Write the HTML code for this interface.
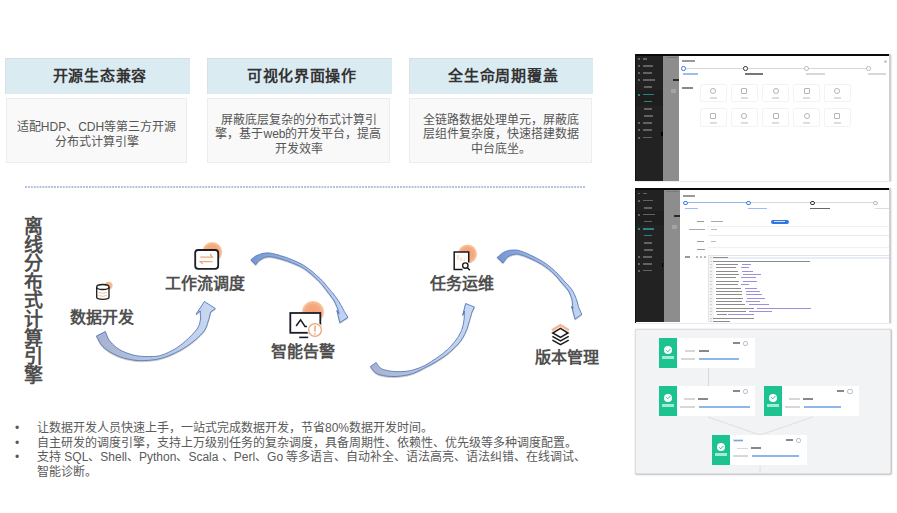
<!DOCTYPE html>
<html lang="zh-CN"><head><meta charset="utf-8">
<style>
*{margin:0;padding:0;box-sizing:border-box}
html,body{width:897px;height:513px;overflow:hidden;background:#fff;font-family:"Liberation Sans",sans-serif;position:relative}
.a{position:absolute}
.hd{position:absolute;top:58px;height:36px;background:#dbebf2;border-top:1px solid #d3dde2;border-left:1px solid #d8e0e4;color:#333;font-weight:bold;font-size:15px;letter-spacing:0.7px;text-indent:0.7px;padding-left:3px;text-align:center;line-height:34px}
.bd{position:absolute;top:98px;height:65px;background:#f9f9f9;border:1px solid #ededed;color:#555;font-size:12px;text-align:center;line-height:14.5px;padding-top:21px}
.wf{position:absolute;font-size:16px;color:#4f4f4f;font-weight:bold;white-space:nowrap;line-height:16px}
.bul{position:absolute;left:15px;font-size:12px;color:#5a5a5a;line-height:14.5px}
.bul .d{position:absolute;left:0}
.ss{position:absolute;overflow:hidden;box-shadow:0.5px 0.5px 1.5px rgba(0,0,0,.25)}
.ss i{position:absolute;display:block}
.ss{filter:blur(0.6px)}
.bul .t{position:absolute;left:22px;white-space:nowrap}
</style></head><body>

<!-- header boxes -->
<div class="hd" style="left:5px;width:185px">开源生态兼容</div>
<div class="hd" style="left:207px;width:185px">可视化界面操作</div>
<div class="hd" style="left:409px;width:184px">全生命周期覆盖</div>

<div class="bd" style="left:6px;width:181px">适配HDP、CDH等第三方开源<br>分布式计算引擎</div>
<div class="bd" style="left:207px;width:183px;padding-top:13.5px">屏蔽底层复杂的分布式计算引<br>擎，基于web的开发平台，提高<br>开发效率</div>
<div class="bd" style="left:409px;width:183px;padding-top:13.5px">全链路数据处理单元，屏蔽底<br>层组件复杂度，快速搭建数据<br>中台底坐。</div>

<!-- dotted line -->
<div class="a" style="left:25px;top:186px;width:561px;height:2px;background-image:linear-gradient(to right,#a3b8d6 0 2px,transparent 2px 3px);background-size:2.92px 2px;opacity:.85"></div>

<!-- vertical title -->
<div class="a" style="left:23.5px;top:218px;width:20px;font-size:19px;line-height:18.6px;font-weight:bold;color:#4d4d4d">离线分布式计算引擎</div>


<!-- workflow svg -->
<svg class="a" style="left:0;top:0" width="897" height="513" viewBox="0 0 897 513">
<defs>
<linearGradient id="g1" x1="0" y1="0" x2="1" y2="0"><stop offset="0" stop-color="#a7b2cf"/><stop offset="1" stop-color="#c8d9f3"/></linearGradient>
<linearGradient id="g2" x1="0" y1="0" x2="1" y2="0"><stop offset="0" stop-color="#7596d2"/><stop offset="0.5" stop-color="#a2bbe6"/><stop offset="1" stop-color="#c3d5f3"/></linearGradient>
<linearGradient id="g3" x1="0" y1="0" x2="1" y2="0"><stop offset="0" stop-color="#a7b2cf"/><stop offset="1" stop-color="#c8d9f3"/></linearGradient>
<radialGradient id="og"><stop offset="0" stop-color="#f4a273"/><stop offset="0.7" stop-color="#f5ab7f"/><stop offset="1" stop-color="#f8caa8"/></radialGradient>
</defs>
<g stroke="#4d72b9" stroke-width="0.85" stroke-linejoin="round" style="filter:drop-shadow(0.6px 1px 0.7px rgba(0,0,0,.22))">
<!-- arrow1 -->
<path fill="url(#g1)" d="M96.4,336.1 L97.1,337.2 L97.7,338.3 L98.2,339.5 L98.9,340.8 L99.7,342.3 L100.6,343.7 L101.7,345.3 L103.0,346.7 L104.4,348.0 L105.9,349.2 L107.5,350.4 L109.2,351.5 L111.0,352.6 L112.8,353.6 L114.6,354.5 L116.5,355.4 L118.4,356.2 L120.4,357.0 L122.5,357.6 L124.5,358.2 L126.6,358.8 L128.6,359.2 L130.6,359.6 L132.5,359.9 L134.3,360.2 L136.0,360.4 L137.8,360.6 L139.4,360.6 L141.1,360.7 L142.7,360.6 L144.3,360.6 L146.0,360.5 L147.7,360.4 L149.5,360.3 L151.2,360.1 L153.0,359.9 L154.8,359.7 L156.6,359.4 L158.5,359.0 L160.3,358.5 L162.3,358.0 L164.2,357.4 L166.2,356.7 L168.1,356.0 L170.1,355.2 L172.0,354.3 L174.0,353.5 L175.8,352.5 L177.7,351.6 L179.5,350.7 L181.4,349.7 L183.2,348.6 L184.9,347.5 L186.7,346.4 L188.4,345.2 L190.2,343.9 L191.9,342.6 L193.7,341.2 L195.5,339.7 L197.2,338.2 L198.9,336.6 L200.5,335.1 L202.0,333.6 L203.3,332.0 L204.4,330.5 L205.4,328.9 L206.1,327.4 L206.7,326.0 L207.2,324.6 L207.6,323.3 L207.9,322.1 L208.3,320.9 L208.7,319.7 L209.1,318.4 L209.4,317.2 L209.7,316.0 L210.0,314.9 L210.2,313.9 L210.4,312.9 L210.7,311.9 L215.4,308.5 L204.4,301.5 L196.0,314.2 L200.2,310.9 L200.3,312.0 L200.3,313.1 L200.4,314.2 L200.5,315.2 L200.6,316.2 L200.6,317.1 L200.6,318.0 L200.5,319.1 L200.3,320.2 L200.1,321.4 L199.8,322.5 L199.6,323.6 L199.3,324.7 L198.9,325.7 L198.3,326.8 L197.7,328.0 L196.8,329.3 L195.7,330.7 L194.4,332.2 L193.0,333.8 L191.5,335.4 L189.9,337.0 L188.4,338.5 L186.8,339.9 L185.4,341.2 L183.8,342.5 L182.3,343.8 L180.7,345.0 L179.1,346.2 L177.5,347.3 L175.9,348.4 L174.2,349.5 L172.4,350.4 L170.6,351.3 L168.8,352.2 L166.9,353.1 L165.1,353.9 L163.2,354.6 L161.4,355.2 L159.7,355.7 L157.9,356.1 L156.2,356.3 L154.4,356.5 L152.7,356.5 L151.0,356.6 L149.3,356.6 L147.7,356.5 L146.0,356.5 L144.3,356.5 L142.8,356.4 L141.2,356.3 L139.7,356.2 L138.2,356.0 L136.7,355.7 L135.1,355.4 L133.5,355.1 L131.8,354.6 L130.0,354.0 L128.2,353.4 L126.3,352.8 L124.5,352.0 L122.7,351.3 L121.0,350.5 L119.5,349.6 L118.0,348.6 L116.6,347.6 L115.2,346.5 L113.9,345.3 L112.6,344.1 L111.5,342.9 L110.5,341.8 L109.6,340.7 L109.0,339.8 L108.4,338.9 L107.9,337.9 L107.5,336.8 L107.0,335.6 L106.5,334.3 L105.9,332.9 L105.3,331.5 Z"/>
<!-- arrow2 -->
<path fill="url(#g2)" d="M255.6,264.8 L256.2,264.2 L256.7,263.5 L257.2,262.9 L257.6,262.3 L258.0,261.7 L258.4,261.3 L258.9,260.8 L259.4,260.4 L260.1,259.9 L260.9,259.4 L261.7,258.9 L262.6,258.4 L263.5,257.9 L264.4,257.6 L265.4,257.2 L266.3,257.0 L267.2,256.8 L268.1,256.8 L269.0,256.7 L269.9,256.7 L270.9,256.8 L272.0,256.9 L273.2,257.1 L274.6,257.4 L276.2,257.8 L277.9,258.2 L279.7,258.7 L281.7,259.2 L283.6,259.8 L285.6,260.5 L287.6,261.1 L289.5,261.9 L291.3,262.6 L293.2,263.3 L295.1,264.1 L297.0,264.9 L298.8,265.7 L300.7,266.6 L302.5,267.6 L304.3,268.7 L306.1,270.0 L308.0,271.5 L310.0,273.0 L311.9,274.7 L313.7,276.3 L315.5,277.9 L317.2,279.5 L318.7,281.0 L320.0,282.3 L321.1,283.6 L322.2,284.8 L323.2,286.0 L324.1,287.2 L325.0,288.5 L326.0,289.7 L326.9,290.9 L327.9,292.2 L328.9,293.5 L329.9,294.8 L330.8,296.0 L331.7,297.3 L332.6,298.5 L333.4,299.7 L334.2,301.0 L334.9,302.2 L335.5,303.6 L336.1,305.0 L336.7,306.4 L337.3,307.7 L337.8,309.0 L338.2,310.1 L338.5,311.0 L338.8,311.7 L338.9,312.2 L338.9,312.4 L338.9,312.6 L338.8,312.7 L338.8,313.0 L338.9,313.4 L338.9,313.9 L336.9,310.3 L339.8,322.6 L348.0,317.3 L344.7,312.1 L344.5,311.9 L344.5,311.9 L344.4,311.7 L344.2,311.3 L344.0,310.8 L343.8,310.3 L343.5,309.7 L343.1,309.0 L342.6,308.1 L342.0,307.0 L341.3,305.8 L340.6,304.5 L339.8,303.1 L339.0,301.7 L338.1,300.4 L337.2,299.0 L336.3,297.8 L335.4,296.5 L334.4,295.2 L333.4,294.0 L332.4,292.7 L331.3,291.5 L330.3,290.3 L329.3,289.1 L328.3,287.9 L327.3,286.7 L326.4,285.5 L325.4,284.2 L324.3,283.0 L323.2,281.7 L321.9,280.4 L320.5,279.0 L319.0,277.6 L317.3,276.0 L315.5,274.4 L313.6,272.7 L311.6,271.0 L309.6,269.5 L307.6,268.0 L305.7,266.7 L303.8,265.4 L301.9,264.3 L300.0,263.3 L298.1,262.4 L296.2,261.5 L294.3,260.7 L292.4,259.9 L290.5,259.1 L288.6,258.4 L286.6,257.6 L284.6,256.9 L282.6,256.3 L280.6,255.7 L278.7,255.1 L277.0,254.6 L275.4,254.2 L273.9,253.8 L272.6,253.5 L271.4,253.3 L270.2,253.1 L269.1,253.0 L268.0,252.9 L266.9,252.9 L265.7,253.0 L264.5,253.1 L263.3,253.3 L262.0,253.6 L260.9,254.0 L259.7,254.4 L258.6,254.8 L257.6,255.2 L256.6,255.6 L255.6,256.1 L254.7,256.7 L253.9,257.3 L253.2,257.9 L252.5,258.4 L251.9,258.9 L251.4,259.3 L250.8,259.8 Z"/>
<!-- arrow3 -->
<path fill="url(#g3)" d="M370.4,366.5 L370.8,367.1 L371.2,367.7 L371.6,368.3 L372.1,369.0 L372.6,369.8 L373.2,370.6 L373.9,371.4 L374.7,372.2 L375.5,372.7 L376.3,373.2 L377.1,373.7 L378.0,374.1 L378.9,374.5 L379.9,374.8 L381.1,375.1 L382.3,375.4 L383.6,375.6 L385.0,375.9 L386.5,376.1 L388.1,376.3 L389.7,376.4 L391.5,376.5 L393.2,376.5 L395.0,376.5 L396.8,376.4 L398.6,376.3 L400.5,376.1 L402.5,375.8 L404.5,375.5 L406.5,375.2 L408.5,374.7 L410.4,374.2 L412.4,373.6 L414.3,372.9 L416.2,372.1 L418.1,371.2 L420.0,370.3 L421.8,369.4 L423.6,368.4 L425.4,367.4 L427.3,366.5 L429.2,365.5 L431.2,364.5 L433.0,363.4 L434.9,362.4 L436.7,361.3 L438.4,360.3 L440.0,359.2 L441.6,358.2 L443.0,357.3 L444.3,356.3 L445.7,355.4 L446.9,354.4 L448.2,353.4 L449.4,352.4 L450.7,351.3 L452.0,350.1 L453.3,348.9 L454.5,347.7 L455.8,346.4 L457.0,345.2 L458.2,343.9 L459.3,342.6 L460.3,341.3 L461.3,340.0 L462.1,338.7 L462.9,337.4 L463.7,336.0 L464.4,334.7 L465.0,333.4 L465.6,332.1 L466.2,330.8 L466.8,329.5 L467.3,328.2 L467.7,326.8 L468.1,325.5 L468.5,324.2 L468.8,322.9 L469.2,321.7 L469.5,320.6 L469.9,319.4 L470.2,318.3 L470.5,317.3 L470.8,316.2 L471.1,315.2 L471.3,314.3 L471.6,313.3 L471.9,312.3 L474.4,307.0 L465.6,303.5 L462.7,315.2 L464.5,311.1 L464.5,312.2 L464.4,313.2 L464.4,314.2 L464.4,315.2 L464.3,316.3 L464.3,317.3 L464.2,318.3 L464.1,319.4 L463.9,320.6 L463.7,321.8 L463.5,323.1 L463.3,324.3 L463.0,325.5 L462.7,326.8 L462.4,328.0 L462.0,329.2 L461.5,330.4 L461.0,331.6 L460.4,332.8 L459.8,334.0 L459.2,335.1 L458.5,336.3 L457.7,337.5 L456.9,338.7 L456.0,340.0 L455.0,341.2 L454.0,342.5 L452.9,343.8 L451.8,345.1 L450.6,346.3 L449.5,347.6 L448.3,348.7 L447.2,349.8 L446.0,350.8 L444.9,351.8 L443.7,352.8 L442.5,353.8 L441.2,354.7 L439.8,355.7 L438.4,356.8 L436.8,357.9 L435.2,359.0 L433.5,360.1 L431.7,361.3 L430.0,362.4 L428.1,363.6 L426.3,364.6 L424.6,365.6 L422.7,366.4 L420.8,367.2 L418.9,368.0 L417.0,368.7 L415.1,369.3 L413.3,369.9 L411.4,370.4 L409.6,370.8 L407.7,371.1 L405.9,371.3 L404.0,371.5 L402.1,371.6 L400.3,371.6 L398.5,371.6 L396.7,371.6 L395.0,371.5 L393.4,371.4 L391.8,371.3 L390.3,371.1 L388.8,370.8 L387.4,370.5 L386.0,370.2 L384.8,369.9 L383.7,369.6 L382.8,369.3 L382.1,369.0 L381.5,368.7 L381.0,368.3 L380.6,368.0 L380.1,367.7 L379.7,367.3 L379.3,366.8 L378.9,366.5 L378.6,366.2 L378.3,365.7 L377.9,365.2 L377.5,364.6 L377.1,363.9 L376.7,363.2 L376.2,362.5 Z"/>
<!-- arrow4 -->
<path fill="url(#g2)" d="M502.8,263.0 L503.5,262.2 L504.2,261.3 L504.9,260.4 L505.5,259.6 L506.0,258.8 L506.6,258.1 L507.1,257.5 L507.6,257.1 L508.1,256.6 L508.8,256.2 L509.5,255.9 L510.2,255.5 L510.9,255.2 L511.7,255.0 L512.5,254.7 L513.3,254.5 L514.1,254.4 L514.8,254.2 L515.5,254.1 L516.1,254.1 L516.8,254.1 L517.6,254.1 L518.5,254.2 L519.5,254.4 L520.7,254.8 L522.1,255.2 L523.5,255.6 L525.0,256.2 L526.6,256.8 L528.2,257.5 L529.8,258.2 L531.4,258.9 L532.9,259.6 L534.6,260.4 L536.2,261.2 L537.9,262.1 L539.5,263.0 L541.2,263.9 L542.7,264.8 L544.2,265.8 L545.7,266.9 L547.1,268.0 L548.6,269.1 L550.0,270.3 L551.4,271.5 L552.7,272.7 L553.9,273.9 L555.1,275.0 L556.1,276.0 L557.0,277.0 L557.9,278.0 L558.7,279.0 L559.4,280.0 L560.2,281.0 L561.0,282.0 L561.9,283.0 L562.8,284.0 L563.7,285.0 L564.6,286.0 L565.5,287.0 L566.4,288.0 L567.2,289.0 L567.9,290.0 L568.6,290.9 L569.1,292.0 L569.7,293.0 L570.1,294.1 L570.5,295.2 L570.9,296.3 L571.3,297.4 L571.6,298.5 L571.9,299.6 L572.2,300.7 L572.3,301.8 L572.4,303.0 L572.5,304.1 L572.6,305.3 L572.7,306.5 L572.8,307.7 L573.0,309.0 L571.6,306.2 L575.0,319.1 L581.8,314.3 L578.8,307.8 L578.5,306.7 L578.2,305.6 L577.9,304.4 L577.6,303.2 L577.3,302.0 L576.9,300.8 L576.5,299.6 L576.1,298.4 L575.6,297.2 L575.1,296.0 L574.6,294.8 L574.1,293.7 L573.5,292.5 L572.9,291.3 L572.2,290.2 L571.4,289.1 L570.6,288.0 L569.7,286.9 L568.8,285.8 L567.9,284.8 L566.9,283.9 L565.9,282.9 L565.0,282.0 L564.1,281.0 L563.3,280.1 L562.5,279.1 L561.7,278.1 L560.8,277.2 L560.0,276.2 L559.1,275.2 L558.0,274.1 L556.9,273.0 L555.8,271.9 L554.5,270.7 L553.2,269.5 L551.8,268.3 L550.3,267.1 L548.8,265.8 L547.3,264.7 L545.8,263.6 L544.2,262.5 L542.6,261.5 L540.9,260.5 L539.2,259.6 L537.6,258.7 L535.9,257.8 L534.2,256.9 L532.6,256.1 L531.1,255.4 L529.5,254.6 L527.8,253.8 L526.2,253.1 L524.7,252.5 L523.2,251.9 L521.8,251.4 L520.5,251.0 L519.3,250.6 L518.2,250.3 L517.2,250.2 L516.2,250.0 L515.3,250.0 L514.5,250.0 L513.6,250.0 L512.7,250.1 L511.7,250.1 L510.8,250.2 L509.7,250.3 L508.7,250.5 L507.6,250.7 L506.6,251.1 L505.5,251.5 L504.4,251.9 L503.3,252.5 L502.3,253.2 L501.3,254.0 L500.4,254.7 L499.6,255.4 L498.7,256.1 L498.0,256.8 L497.2,257.4 Z"/>
</g>
<!-- orange blobs -->
<circle cx="108.6" cy="285.6" r="4.2" fill="url(#og)" opacity=".85"/>
<circle cx="212.2" cy="252" r="10" fill="url(#og)"/>
<circle cx="313" cy="312" r="11" fill="url(#og)"/>
<circle cx="467.5" cy="254" r="9.5" fill="url(#og)"/>
<!-- db icon -->
<g fill="#fff" stroke="#1c1c1c" stroke-width="1.3">
<path d="M96.7,287 L96.7,297.3 C96.7,300 109,300 109,297.3 L109,287"/>
<ellipse cx="102.85" cy="287" rx="6.15" ry="2.5"/>
</g>
<path d="M98.5,292.5 Q102.8,294 107,292.5 M98.5,295.5 Q102.8,297 107,295.5" stroke="#f2c3a0" stroke-width="1" fill="none"/>
<!-- workflow icon -->
<rect x="195.2" y="250" width="23" height="18.8" rx="3" fill="#fff" stroke="#1d1d24" stroke-width="1.8"/>
<path d="M200.2,257.1 L212.4,257.1 L209.9,253.8 M212.4,261.6 L200.2,261.6 L202.8,264.1" stroke="#f0a676" stroke-width="1.2" fill="none"/>
<!-- monitor icon -->
<rect x="290.3" y="313" width="30" height="19.8" fill="#fff" stroke="#1c1c28" stroke-width="1.8"/>
<path d="M299.2,337.4 L308.2,337.4" stroke="#1c1c28" stroke-width="1.6"/>
<path d="M296.1,326 L300.6,319.8 L305,326.5 L307,326.5" stroke="#1c1c28" stroke-width="1.5" fill="none"/>
<circle cx="315" cy="330" r="7.8" fill="#fff"/>
<circle cx="315" cy="330" r="6.4" fill="#fff" stroke="#e9a67a" stroke-width="1.3"/>
<path d="M315,325.5 L315,331.8 M315,333.3 L315,334.8" stroke="#e59a68" stroke-width="1.3"/>
<!-- task icon -->
<path d="M462.5,269.4 L454.2,269.4 L454.2,252 L468.7,252 L468.7,262.5" fill="#fff" stroke="#1a1a1a" stroke-width="1.5"/>
<path d="M458,255 L458,259.6 M461,257.5 L461,261 M464.2,259 L464.2,261" stroke="#f0c7a6" stroke-width="1"/>
<circle cx="465.3" cy="265.6" r="2.7" fill="#fff" stroke="#1a1a1a" stroke-width="1.4"/>
<path d="M467.3,267.6 L469.9,270.2" stroke="#1a1a1a" stroke-width="1.5"/>
<!-- layers icon -->
<path d="M552,330.3 L560.5,325.2 L569,330.3" stroke="#f5b58e" stroke-width="2.3" fill="none"/>
<path d="M560.5,328.3 L568,333 L560.5,337.4 L552.7,333 Z" fill="#fff" stroke="#1a1a1a" stroke-width="1.5"/>
<path d="M552.4,336.4 L560.5,341 L568.7,336.4 M552.4,340.2 L560.5,344.6 L568.7,340.2" stroke="#1a1a1a" stroke-width="1.5" fill="none"/>
</svg>

<!-- workflow labels -->
<div class="wf" style="left:70px;top:310px">数据开发</div>
<div class="wf" style="left:165px;top:276px">工作流调度</div>
<div class="wf" style="left:271px;top:344px">智能告警</div>
<div class="wf" style="left:430px;top:276px">任务运维</div>
<div class="wf" style="left:535px;top:350px">版本管理</div>

<!-- bullets -->
<div class="bul" style="top:421px"><span class="d">•</span><span class="t">让数据开发人员快速上手，一站式完成数据开发，节省80%数据开发时间。</span></div>
<div class="bul" style="top:435.5px"><span class="d">•</span><span class="t">自主研发的调度引擎，支持上万级别任务的复杂调度，具备周期性、依赖性、优先级等多种调度配置。</span></div>
<div class="bul" style="top:450px"><span class="d">•</span><span class="t">支持 SQL、Shell、Python、Scala 、Perl、Go 等多语言、自动补全、语法高亮、语法纠错、在线调试、</span></div>
<div class="bul" style="top:464.5px"><span class="t">智能诊断。</span></div>

<!-- SHOTS START -->
<div class="ss" style="left:635px;top:54px;width:255.5px;height:127px;background:#fff"><i style="left:0px;top:0px;width:255px;height:1.8px;background:#0a0a0a;"></i><i style="left:0px;top:0px;width:1px;height:127px;background:#111;"></i><i style="left:1px;top:1.8px;width:26.5px;height:125.2px;background:#222;"></i><i style="left:1px;top:36px;width:26.5px;height:16px;background:#1e1e1e;"></i><i style="left:3.2px;top:4.3px;width:2px;height:1.8px;background:#626262;"></i><i style="left:7.9px;top:4.3px;width:4.5px;height:1.6px;background:#626262;"></i><i style="left:3.2px;top:11.3px;width:2px;height:1.8px;background:#626262;"></i><i style="left:7.9px;top:11.3px;width:10.5px;height:1.6px;background:#626262;"></i><i style="left:3.2px;top:18.3px;width:2px;height:1.8px;background:#626262;"></i><i style="left:7.9px;top:18.3px;width:8.8px;height:1.6px;background:#626262;"></i><i style="left:3.2px;top:25.3px;width:2px;height:1.8px;background:#626262;"></i><i style="left:7.9px;top:25.3px;width:12.3px;height:1.6px;background:#626262;"></i><i style="left:8.7px;top:32.3px;width:7.9px;height:1.6px;background:#626262;"></i><i style="left:3.2px;top:39.8px;width:2px;height:1.8px;background:#2a8581;"></i><i style="left:7.9px;top:39.8px;width:11.4px;height:1.6px;background:#2a8581;"></i><i style="left:8.7px;top:46.8px;width:7.9px;height:1.6px;background:#2a8581;"></i><i style="left:8.7px;top:54.3px;width:7.9px;height:1.6px;background:#626262;"></i><i style="left:8.7px;top:61.3px;width:9.6px;height:1.6px;background:#626262;"></i><i style="left:3.2px;top:68.3px;width:2px;height:1.8px;background:#626262;"></i><i style="left:7.9px;top:68.3px;width:8.8px;height:1.6px;background:#626262;"></i><i style="left:3.2px;top:75.3px;width:2px;height:1.8px;background:#626262;"></i><i style="left:7.9px;top:75.3px;width:8.8px;height:1.6px;background:#626262;"></i><i style="left:3.2px;top:82.8px;width:2px;height:1.8px;background:#626262;"></i><i style="left:7.9px;top:82.8px;width:8.8px;height:1.6px;background:#626262;"></i><i style="left:26px;top:77.8px;width:1.5px;height:4px;background:#000;"></i><i style="left:27.5px;top:1.8px;width:16px;height:125.2px;background:#8d8d8d;"></i><i style="left:38px;top:25.3px;width:5.5px;height:1.6px;background:#2a2a2a;"></i><i style="left:35.5px;top:35px;width:5px;height:4px;background:#a4a4a4;"></i><i style="left:31px;top:2.5px;width:12px;height:1.5px;background:#7a7a7a;"></i><i style="left:47.4px;top:6px;width:13px;height:2px;background:#999;"></i><i style="left:248.5px;top:5.5px;width:3px;height:3px;background:#ccc;border-radius:50%"></i><i style="left:48.6px;top:14px;width:185px;height:0.9px;background:#d8d8d8;"></i><i style="left:46.300000000000004px;top:12.2px;width:4.6px;height:4.6px;background:#fff;border:0.8px solid #3b7be0;border-radius:50%;box-sizing:border-box"></i><i style="left:108.10000000000001px;top:12.2px;width:4.6px;height:4.6px;background:#fff;border:0.8px solid #333;border-radius:50%;box-sizing:border-box"></i><i style="left:169.39999999999998px;top:12.2px;width:4.6px;height:4.6px;background:#fff;border:0.8px solid #bbb;border-radius:50%;box-sizing:border-box"></i><i style="left:231.0px;top:12.2px;width:4.6px;height:4.6px;background:#fff;border:0.8px solid #bbb;border-radius:50%;box-sizing:border-box"></i><i style="left:48px;top:19px;width:15px;height:1.6px;background:#9dbcef;"></i><i style="left:110px;top:19px;width:18px;height:1.6px;background:#777;"></i><i style="left:171px;top:19px;width:19px;height:1.6px;background:#d8d8d8;"></i><i style="left:233px;top:19px;width:18px;height:1.6px;background:#d8d8d8;"></i><i style="left:47px;top:33px;width:11px;height:1.6px;background:#888;"></i><i style="left:64.5px;top:29.9px;width:27px;height:18.4px;background:transparent;border:0.8px solid #f3f3f3;border-radius:2px;box-sizing:border-box"></i><i style="left:95.7px;top:29.9px;width:27px;height:18.4px;background:transparent;border:0.8px solid #f3f3f3;border-radius:2px;box-sizing:border-box"></i><i style="left:126.9px;top:29.9px;width:27px;height:18.4px;background:transparent;border:0.8px solid #f3f3f3;border-radius:2px;box-sizing:border-box"></i><i style="left:158.1px;top:29.9px;width:27px;height:18.4px;background:transparent;border:0.8px solid #f3f3f3;border-radius:2px;box-sizing:border-box"></i><i style="left:189.3px;top:29.9px;width:27px;height:18.4px;background:transparent;border:0.8px solid #f3f3f3;border-radius:2px;box-sizing:border-box"></i><i style="left:64.5px;top:54.4px;width:27px;height:18.4px;background:transparent;border:0.8px solid #f3f3f3;border-radius:2px;box-sizing:border-box"></i><i style="left:95.7px;top:54.4px;width:27px;height:18.4px;background:transparent;border:0.8px solid #f3f3f3;border-radius:2px;box-sizing:border-box"></i><i style="left:126.9px;top:54.4px;width:27px;height:18.4px;background:transparent;border:0.8px solid #f3f3f3;border-radius:2px;box-sizing:border-box"></i><i style="left:158.1px;top:54.4px;width:27px;height:18.4px;background:transparent;border:0.8px solid #f3f3f3;border-radius:2px;box-sizing:border-box"></i><i style="left:189.3px;top:54.4px;width:27px;height:18.4px;background:transparent;border:0.8px solid #f3f3f3;border-radius:2px;box-sizing:border-box"></i><i style="left:75px;top:33.5px;width:6px;height:6px;background:transparent;border:0.9px solid #b4b4b4;border-radius:50%;box-sizing:border-box"></i><i style="left:74.5px;top:43.4px;width:7px;height:1.2px;background:#dddddd;"></i><i style="left:106.4px;top:33.5px;width:6px;height:6px;background:transparent;border:0.9px solid #b4b4b4;border-radius:1px;box-sizing:border-box"></i><i style="left:105.9px;top:43.4px;width:7px;height:1.2px;background:#dddddd;"></i><i style="left:137.6px;top:33.5px;width:6px;height:6px;background:transparent;border:0.9px solid #b4b4b4;border-radius:50%;box-sizing:border-box"></i><i style="left:137.1px;top:43.4px;width:7px;height:1.2px;background:#dddddd;"></i><i style="left:168.7px;top:33.5px;width:6px;height:6px;background:transparent;border:0.9px solid #b4b4b4;border-radius:1px;box-sizing:border-box"></i><i style="left:168.2px;top:43.4px;width:7px;height:1.2px;background:#dddddd;"></i><i style="left:199.4px;top:33.5px;width:6px;height:6px;background:transparent;border:0.9px solid #b4b4b4;border-radius:50%;box-sizing:border-box"></i><i style="left:198.9px;top:43.4px;width:7px;height:1.2px;background:#dddddd;"></i><i style="left:75px;top:58.8px;width:6px;height:6px;background:transparent;border:0.9px solid #b4b4b4;border-radius:1px;box-sizing:border-box"></i><i style="left:74.5px;top:68.4px;width:7px;height:1.2px;background:#dddddd;"></i><i style="left:106.4px;top:58.8px;width:6px;height:6px;background:transparent;border:0.9px solid #b4b4b4;border-radius:50%;box-sizing:border-box"></i><i style="left:105.9px;top:68.4px;width:7px;height:1.2px;background:#dddddd;"></i><i style="left:137.6px;top:58.8px;width:6px;height:6px;background:transparent;border:0.9px solid #b4b4b4;border-radius:1px;box-sizing:border-box"></i><i style="left:137.1px;top:68.4px;width:7px;height:1.2px;background:#dddddd;"></i><i style="left:168.7px;top:58.8px;width:6px;height:6px;background:transparent;border:0.9px solid #b4b4b4;border-radius:50%;box-sizing:border-box"></i><i style="left:168.2px;top:68.4px;width:7px;height:1.2px;background:#dddddd;"></i><i style="left:199.4px;top:58.8px;width:6px;height:6px;background:transparent;border:0.9px solid #b4b4b4;border-radius:1px;box-sizing:border-box"></i><i style="left:198.9px;top:68.4px;width:7px;height:1.2px;background:#dddddd;"></i><i style="left:254px;top:0px;width:1.5px;height:127px;background:#d0d0d0;"></i></div>
<div class="ss" style="left:635px;top:188px;width:255.5px;height:134.5px;background:#fff"><i style="left:0px;top:0px;width:255px;height:1.8px;background:#0a0a0a;"></i><i style="left:0px;top:0px;width:1px;height:134.5px;background:#111;"></i><i style="left:1px;top:1.8px;width:27.5px;height:132.7px;background:#222;"></i><i style="left:1px;top:23px;width:27.5px;height:14px;background:#1e1e1e;"></i><i style="left:3.2px;top:4.5px;width:2px;height:1.8px;background:#626262;"></i><i style="left:7.9px;top:4.5px;width:4.5px;height:1.6px;background:#626262;"></i><i style="left:3.2px;top:11.9px;width:2px;height:1.8px;background:#626262;"></i><i style="left:7.9px;top:11.9px;width:10.5px;height:1.6px;background:#626262;"></i><i style="left:8.7px;top:19.0px;width:8.8px;height:1.6px;background:#626262;"></i><i style="left:3.2px;top:25.8px;width:2px;height:1.8px;background:#626262;"></i><i style="left:7.9px;top:25.8px;width:12.3px;height:1.6px;background:#626262;"></i><i style="left:8.7px;top:32.599999999999994px;width:7.9px;height:1.6px;background:#626262;"></i><i style="left:3.2px;top:40.0px;width:2px;height:1.8px;background:#2a8581;"></i><i style="left:7.9px;top:40.0px;width:11.4px;height:1.6px;background:#2a8581;"></i><i style="left:8.7px;top:46.8px;width:7.9px;height:1.6px;background:#2a8581;"></i><i style="left:8.7px;top:54.199999999999996px;width:7.9px;height:1.6px;background:#626262;"></i><i style="left:8.7px;top:61.3px;width:9.6px;height:1.6px;background:#626262;"></i><i style="left:3.2px;top:68.2px;width:2px;height:1.8px;background:#626262;"></i><i style="left:7.9px;top:68.2px;width:8.8px;height:1.6px;background:#626262;"></i><i style="left:3.2px;top:75.0px;width:2px;height:1.8px;background:#626262;"></i><i style="left:7.9px;top:75.0px;width:8.8px;height:1.6px;background:#626262;"></i><i style="left:3.2px;top:81.8px;width:2px;height:1.8px;background:#626262;"></i><i style="left:7.9px;top:81.8px;width:8.8px;height:1.6px;background:#626262;"></i><i style="left:26.5px;top:75px;width:1.5px;height:4px;background:#000;"></i><i style="left:28.5px;top:1.8px;width:16.5px;height:132.7px;background:#8d8d8d;"></i><i style="left:39px;top:27px;width:6px;height:1.6px;background:#2a2a2a;"></i><i style="left:36.5px;top:36.5px;width:5px;height:4px;background:#a4a4a4;"></i><i style="left:31px;top:2.5px;width:13px;height:1.5px;background:#7a7a7a;"></i><i style="left:48px;top:6.8px;width:12px;height:2px;background:#999;"></i><i style="left:50.4px;top:14.3px;width:63.3px;height:0.9px;background:#8fb4ee;"></i><i style="left:113.7px;top:14.3px;width:127px;height:0.9px;background:#d8d8d8;"></i><i style="left:48.1px;top:12.5px;width:4.6px;height:4.6px;background:#fff;border:0.8px solid #3b7be0;border-radius:50%;box-sizing:border-box"></i><i style="left:111.4px;top:12.5px;width:4.6px;height:4.6px;background:#fff;border:0.8px solid #3b7be0;border-radius:50%;box-sizing:border-box"></i><i style="left:175.0px;top:12.5px;width:4.6px;height:4.6px;background:#fff;border:0.8px solid #333;border-radius:50%;box-sizing:border-box"></i><i style="left:238.29999999999998px;top:12.5px;width:4.6px;height:4.6px;background:#fff;border:0.8px solid #bbb;border-radius:50%;box-sizing:border-box"></i><i style="left:50px;top:19.6px;width:13px;height:1.6px;background:#9dbcef;"></i><i style="left:113px;top:19.6px;width:19px;height:1.6px;background:#9dbcef;"></i><i style="left:175px;top:19.6px;width:20px;height:1.6px;background:#666;"></i><i style="left:240px;top:19.6px;width:15px;height:1.6px;background:#dddddd;"></i><i style="left:62px;top:32.6px;width:6.6px;height:1.5px;background:#999;"></i><i style="left:75.5px;top:32.6px;width:12px;height:1.5px;background:#aaa;"></i><i style="left:135.5px;top:31.7px;width:18px;height:4.1px;background:#3177e2;border-radius:2.1px"></i><i style="left:139px;top:33.2px;width:11px;height:1px;background:#cfe0fb;"></i><i style="left:53.6px;top:40.8px;width:16px;height:1.5px;background:#aaa;"></i><i style="left:75.5px;top:40.8px;width:6px;height:1.5px;background:#bbb;"></i><i style="left:72.7px;top:47px;width:182px;height:0.8px;background:#eaeaea;"></i><i style="left:72.7px;top:37.5px;width:182px;height:0.8px;background:#f0f0f0;"></i><i style="left:62px;top:52.8px;width:7px;height:1.5px;background:#999;"></i><i style="left:75.5px;top:52.8px;width:5px;height:1.5px;background:#bbb;"></i><i style="left:72.7px;top:58.5px;width:182px;height:0.8px;background:#f0f0f0;"></i><i style="left:62px;top:60.7px;width:7.5px;height:1.5px;background:#999;"></i><i style="left:49.5px;top:68.1px;width:5px;height:1.5px;background:#999;"></i><i style="left:61px;top:68px;width:2px;height:2px;background:#bbb;"></i><i style="left:65px;top:68px;width:2px;height:2px;background:#bbb;"></i><i style="left:69px;top:68px;width:2px;height:2px;background:#bbb;"></i><i style="left:72.8px;top:67.4px;width:182.2px;height:67.1px;background:#fff;border-left:0.8px solid #e3e3e3;border-top:0.8px solid #e3e3e3"></i><i style="left:73.6px;top:68.2px;width:5px;height:66.3px;background:#f4f4f4;"></i><i style="left:78.6px;top:68.6px;width:176.4px;height:2.4px;background:#e6eefa;"></i><i style="left:74.5px;top:69.3px;width:2.5px;height:1.0px;background:#d0d0d0;"></i><i style="left:78.20960698689956px;top:69.3px;width:15.010917030567697px;height:1.0px;background:#8c8c8c;"></i><i style="left:74.5px;top:72.66px;width:2.5px;height:1.0px;background:#d0d0d0;"></i><i style="left:78.20960698689956px;top:72.66px;width:96.8886462882096px;height:1.0px;background:#8c8c8c;"></i><i style="left:74.5px;top:76.02px;width:2.5px;height:1.0px;background:#d0d0d0;"></i><i style="left:80.93886462882097px;top:76.02px;width:21.834061135371172px;height:1.0px;background:#8c8c8c;"></i><i style="left:106.86681222707423px;top:76.02px;width:9.552401746724883px;height:1.0px;background:#9d8ee0;"></i><i style="left:74.5px;top:79.38px;width:2.5px;height:1.0px;background:#d0d0d0;"></i><i style="left:80.93886462882097px;top:79.38px;width:20.469432314410483px;height:1.0px;background:#8c8c8c;"></i><i style="left:105.50218340611353px;top:79.38px;width:8.187772925764193px;height:1.0px;background:#9d8ee0;"></i><i style="left:74.5px;top:82.74px;width:2.5px;height:1.0px;background:#d0d0d0;"></i><i style="left:80.93886462882097px;top:82.74px;width:21.834061135371172px;height:1.0px;background:#8c8c8c;"></i><i style="left:106.86681222707423px;top:82.74px;width:10.917030567685586px;height:1.0px;background:#9d8ee0;"></i><i style="left:74.5px;top:86.1px;width:2.5px;height:1.0px;background:#d0d0d0;"></i><i style="left:80.93886462882097px;top:86.1px;width:23.198689956331876px;height:1.0px;background:#8c8c8c;"></i><i style="left:108.23144104803494px;top:86.1px;width:17.740174672489076px;height:1.0px;background:#9d8ee0;"></i><i style="left:74.5px;top:89.46px;width:2.5px;height:1.0px;background:#d0d0d0;"></i><i style="left:80.93886462882097px;top:89.46px;width:20.469432314410483px;height:1.0px;background:#8c8c8c;"></i><i style="left:105.50218340611353px;top:89.46px;width:15.010917030567683px;height:1.0px;background:#9d8ee0;"></i><i style="left:74.5px;top:92.82px;width:2.5px;height:1.0px;background:#d0d0d0;"></i><i style="left:80.93886462882097px;top:92.82px;width:23.198689956331876px;height:1.0px;background:#8c8c8c;"></i><i style="left:108.23144104803494px;top:92.82px;width:13.646288209606979px;height:1.0px;background:#9d8ee0;"></i><i style="left:74.5px;top:96.17999999999999px;width:2.5px;height:1.0px;background:#d0d0d0;"></i><i style="left:80.93886462882097px;top:96.17999999999999px;width:21.834061135371172px;height:1.0px;background:#8c8c8c;"></i><i style="left:105.50218340611353px;top:96.17999999999999px;width:8.187772925764193px;height:1.0px;background:#9d8ee0;"></i><i style="left:74.5px;top:99.53999999999999px;width:2.5px;height:1.0px;background:#d0d0d0;"></i><i style="left:80.93886462882097px;top:99.53999999999999px;width:24.563318777292565px;height:1.0px;background:#8c8c8c;"></i><i style="left:109.59606986899563px;top:99.53999999999999px;width:12.28165938864629px;height:1.0px;background:#9d8ee0;"></i><i style="left:74.5px;top:102.9px;width:2.5px;height:1.0px;background:#d0d0d0;"></i><i style="left:80.93886462882097px;top:102.9px;width:25.92794759825327px;height:1.0px;background:#8c8c8c;"></i><i style="left:110.96069868995633px;top:102.9px;width:13.646288209606979px;height:1.0px;background:#9d8ee0;"></i><i style="left:74.5px;top:106.25999999999999px;width:2.5px;height:1.0px;background:#d0d0d0;"></i><i style="left:80.93886462882097px;top:106.25999999999999px;width:25.92794759825327px;height:1.0px;background:#8c8c8c;"></i><i style="left:110.96069868995633px;top:106.25999999999999px;width:16.375545851528386px;height:1.0px;background:#9d8ee0;"></i><i style="left:74.5px;top:109.62px;width:2.5px;height:1.0px;background:#d0d0d0;"></i><i style="left:80.93886462882097px;top:109.62px;width:27.292576419213972px;height:1.0px;background:#8c8c8c;"></i><i style="left:112.32532751091703px;top:109.62px;width:17.74017467248909px;height:1.0px;background:#9d8ee0;"></i><i style="left:74.5px;top:112.97999999999999px;width:2.5px;height:1.0px;background:#d0d0d0;"></i><i style="left:80.93886462882097px;top:112.97999999999999px;width:25.92794759825327px;height:1.0px;background:#8c8c8c;"></i><i style="left:110.96069868995633px;top:112.97999999999999px;width:13.646288209606979px;height:1.0px;background:#9d8ee0;"></i><i style="left:74.5px;top:116.34px;width:2.5px;height:1.0px;background:#d0d0d0;"></i><i style="left:80.93886462882097px;top:116.34px;width:28.65720524017466px;height:1.0px;background:#8c8c8c;"></i><i style="left:113.68995633187772px;top:116.34px;width:20.469432314410497px;height:1.0px;background:#9d8ee0;"></i><i style="left:74.5px;top:119.69999999999999px;width:2.5px;height:1.0px;background:#d0d0d0;"></i><i style="left:80.93886462882097px;top:119.69999999999999px;width:38.20960698689956px;height:1.0px;background:#8c8c8c;"></i><i style="left:121.87772925764192px;top:119.69999999999999px;width:54.58515283842796px;height:1.0px;background:#9d8ee0;"></i><i style="left:74.5px;top:123.06px;width:2.5px;height:1.0px;background:#d0d0d0;"></i><i style="left:80.93886462882097px;top:123.06px;width:30.021834061135365px;height:1.0px;background:#8c8c8c;"></i><i style="left:113.68995633187772px;top:123.06px;width:23.198689956331876px;height:1.0px;background:#9d8ee0;"></i><i style="left:74.5px;top:126.41999999999999px;width:2.5px;height:1.0px;background:#d0d0d0;"></i><i style="left:82.30349344978166px;top:126.41999999999999px;width:9.552401746724883px;height:1.0px;background:#8c8c8c;"></i><i style="left:93.22052401746726px;top:126.41999999999999px;width:25.92794759825327px;height:1.0px;background:#9d8ee0;"></i><i style="left:74.5px;top:129.78px;width:2.5px;height:1.0px;background:#d0d0d0;"></i><i style="left:78.20960698689956px;top:129.78px;width:40.938864628820966px;height:1.0px;background:#8c8c8c;"></i><i style="left:74.5px;top:133.14px;width:2.5px;height:1.0px;background:#d0d0d0;"></i><i style="left:78.20960698689956px;top:133.14px;width:16.375545851528386px;height:1.0px;background:#8c8c8c;"></i><i style="left:254px;top:0px;width:1.5px;height:134.5px;background:#d0d0d0;"></i></div>
<div class="ss" style="left:635px;top:329.3px;width:256px;height:144.5px;background:#f2f3f5;border:1px solid #dedfe2;box-sizing:border-box;border-radius:2px"><i style="left:71.5px;top:38px;width:0.9px;height:19px;background:#d6d8dc;"></i><svg style="position:absolute;left:0;top:0" width="256" height="144"><path d="M72,87 L124,105 L177,87 M124,135.5 L124,144" stroke="#dadcdf" stroke-width="0.9" fill="none"/></svg><i style="left:23.3px;top:7.9px;width:17.7px;height:29.6px;background:#1cc390;"></i><i style="left:28.4px;top:15.7px;width:8px;height:8px;background:#fff;border-radius:50%"></i><svg style="position:absolute;left:28.200000000000003px;top:15.4px" width="8.6" height="8.6" viewBox="0 0 8.6 8.6"><path d="M2.3,4.4 L3.8,5.8 L6.4,3" stroke="#1cc390" stroke-width="1.0" fill="none"/></svg><i style="left:25.900000000000002px;top:26.0px;width:12.6px;height:2.8px;background:#a6ead2;"></i><i style="left:41.0px;top:7.9px;width:77.8px;height:29.6px;background:#fff;"></i><i style="left:96.8px;top:12.100000000000001px;width:7.4px;height:1.7px;background:#888;"></i><i style="left:107.3px;top:10.7px;width:5.2px;height:5.2px;background:transparent;border:0.8px solid #b4c0cf;border-radius:40%;box-sizing:border-box"></i><i style="left:48.7px;top:20.200000000000003px;width:10.8px;height:1.6px;background:#d8d8d8;"></i><i style="left:62.5px;top:20.0px;width:10.2px;height:1.8px;background:#888;"></i><i style="left:44.7px;top:28.1px;width:14.5px;height:1.6px;background:#d8d8d8;"></i><i style="left:62.9px;top:28.0px;width:40.5px;height:1.6px;background:#8fb5ea;"></i><i style="left:23px;top:55.7px;width:17.7px;height:29.6px;background:#1cc390;"></i><i style="left:28.1px;top:63.5px;width:8px;height:8px;background:#fff;border-radius:50%"></i><svg style="position:absolute;left:27.9px;top:63.2px" width="8.6" height="8.6" viewBox="0 0 8.6 8.6"><path d="M2.3,4.4 L3.8,5.8 L6.4,3" stroke="#1cc390" stroke-width="1.0" fill="none"/></svg><i style="left:25.6px;top:73.80000000000001px;width:12.6px;height:2.8px;background:#a6ead2;"></i><i style="left:40.7px;top:55.7px;width:78px;height:29.6px;background:#fff;"></i><i style="left:96.7px;top:59.900000000000006px;width:7.4px;height:1.7px;background:#888;"></i><i style="left:107.2px;top:58.5px;width:5.2px;height:5.2px;background:transparent;border:0.8px solid #b4c0cf;border-radius:40%;box-sizing:border-box"></i><i style="left:48.400000000000006px;top:68.0px;width:10.8px;height:1.6px;background:#d8d8d8;"></i><i style="left:62.2px;top:67.8px;width:10.2px;height:1.8px;background:#888;"></i><i style="left:44.400000000000006px;top:75.9px;width:14.5px;height:1.6px;background:#d8d8d8;"></i><i style="left:62.6px;top:75.80000000000001px;width:51px;height:1.6px;background:#8fb5ea;"></i><i style="left:128px;top:55.7px;width:17.7px;height:29.6px;background:#1cc390;"></i><i style="left:133.1px;top:63.5px;width:8px;height:8px;background:#fff;border-radius:50%"></i><svg style="position:absolute;left:132.9px;top:63.2px" width="8.6" height="8.6" viewBox="0 0 8.6 8.6"><path d="M2.3,4.4 L3.8,5.8 L6.4,3" stroke="#1cc390" stroke-width="1.0" fill="none"/></svg><i style="left:130.6px;top:73.80000000000001px;width:12.6px;height:2.8px;background:#a6ead2;"></i><i style="left:145.7px;top:55.7px;width:77.2px;height:29.6px;background:#fff;"></i><i style="left:200.89999999999998px;top:59.900000000000006px;width:7.4px;height:1.7px;background:#888;"></i><i style="left:211.39999999999998px;top:58.5px;width:5.2px;height:5.2px;background:transparent;border:0.8px solid #b4c0cf;border-radius:40%;box-sizing:border-box"></i><i style="left:153.39999999999998px;top:68.0px;width:10.8px;height:1.6px;background:#d8d8d8;"></i><i style="left:167.2px;top:67.8px;width:10.2px;height:1.8px;background:#888;"></i><i style="left:149.39999999999998px;top:75.9px;width:14.5px;height:1.6px;background:#d8d8d8;"></i><i style="left:167.6px;top:75.80000000000001px;width:37px;height:1.6px;background:#8fb5ea;"></i><i style="left:76px;top:105px;width:17.7px;height:29.6px;background:#1cc390;"></i><i style="left:81.1px;top:112.8px;width:8px;height:8px;background:#fff;border-radius:50%"></i><svg style="position:absolute;left:80.9px;top:112.5px" width="8.6" height="8.6" viewBox="0 0 8.6 8.6"><path d="M2.3,4.4 L3.8,5.8 L6.4,3" stroke="#1cc390" stroke-width="1.0" fill="none"/></svg><i style="left:78.6px;top:123.1px;width:12.6px;height:2.8px;background:#a6ead2;"></i><i style="left:93.7px;top:105px;width:77.8px;height:29.6px;background:#fff;"></i><i style="left:149.5px;top:109.2px;width:7.4px;height:1.7px;background:#888;"></i><i style="left:160.0px;top:107.8px;width:5.2px;height:5.2px;background:transparent;border:0.8px solid #b4c0cf;border-radius:40%;box-sizing:border-box"></i><i style="left:97.4px;top:108.6px;width:9.8px;height:3px;background:#cfe2f8;"></i><i style="left:97.9px;top:109.3px;width:8.8px;height:1.4px;background:#7aa5dc;"></i><i style="left:101.4px;top:117.3px;width:10.8px;height:1.6px;background:#d8d8d8;"></i><i style="left:115.2px;top:117.1px;width:10.2px;height:1.8px;background:#888;"></i><i style="left:97.4px;top:125.2px;width:14.5px;height:1.6px;background:#d8d8d8;"></i><i style="left:115.6px;top:125.1px;width:47.5px;height:1.6px;background:#8fb5ea;"></i></div>
<!-- SHOTS END -->
</body></html>
